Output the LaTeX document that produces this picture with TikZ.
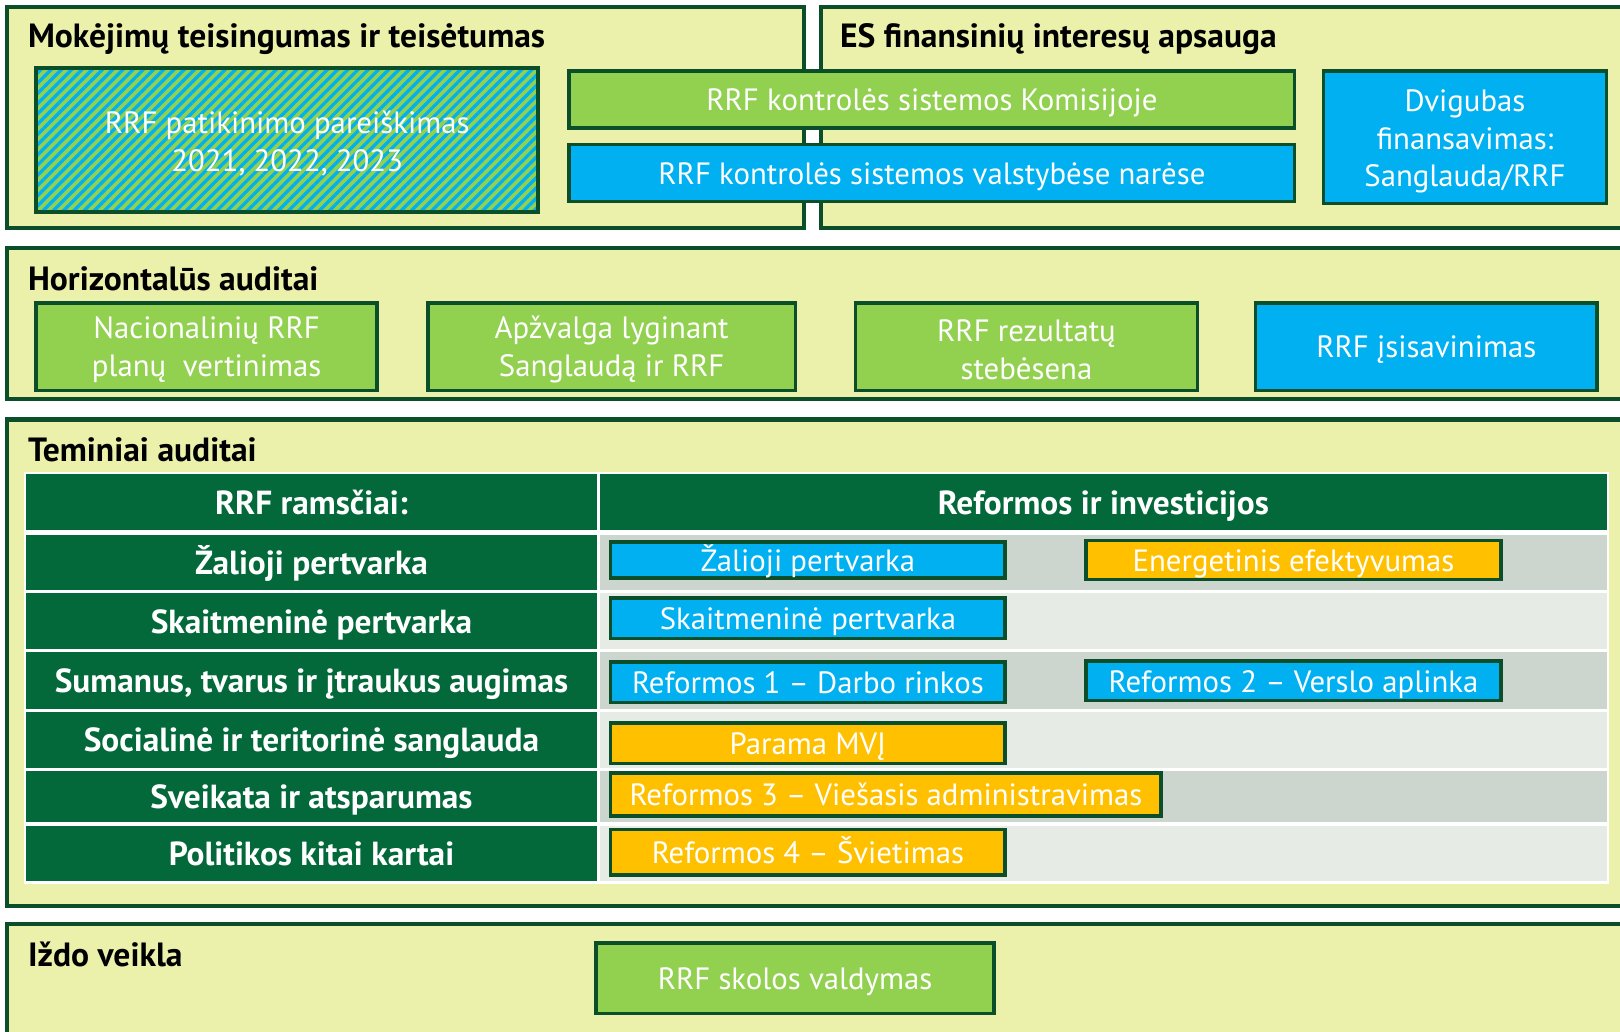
\documentclass[tikz,border=0pt]{standalone}
\usepackage{fontspec}
\setmainfont{PT Sans}
\usetikzlibrary{patterns.meta}

\definecolor{panelfill}{HTML}{EBF1AA}
\definecolor{edgegreen}{HTML}{0B4F2A}
\definecolor{tablegreen}{HTML}{03693A}
\definecolor{boxgreen}{HTML}{92D050}
\definecolor{boxblue}{HTML}{00B0F0}
\definecolor{boxorange}{HTML}{FFC000}
\definecolor{rowdark}{HTML}{CDD5CF}
\definecolor{rowlight}{HTML}{E6EBE6}

\newcommand\boxstrut{\rule[-0.22em]{0pt}{1.17em}}

\tikzset{
  panel/.style={draw=edgegreen, fill=panelfill, line width=4pt},
  paneltitle/.style={anchor=base west, inner sep=0pt, font=\fontsize{32.5}{36}\selectfont\bfseries},
  box/.style={draw=edgegreen, line width=3.5pt, text=white, inner sep=0pt, align=center,
    font=\fontsize{29.8}{36.5}\selectfont, execute at begin node=\boxstrut},
  boxtext/.style={text=white, inner sep=0pt, align=center, font=\fontsize{29.8}{36.5}\selectfont},
  greenbox/.style={box, fill=boxgreen},
  bluebox/.style={box, fill=boxblue},
  orangebox/.style={box, fill=boxorange},
  hatchbox/.style={box, preaction={fill=boxgreen},
    preaction={pattern={Lines[angle=45,distance=7pt,line width=3.2pt]}, pattern color=boxblue}},
  pillar/.style={fill=tablegreen, text=white, inner sep=0pt, font=\fontsize{32.3}{36}\selectfont\bfseries,
    execute at begin node=\boxstrut},
  size/.style 2 args={minimum width=#1, minimum height=#2}
}

\begin{document}
\begin{tikzpicture}[x=1pt,y=-1pt]
  \useasboundingbox (0,0) rectangle (1568,998);
  \clip (0,0) rectangle (1568,998);

  %%% panels
  \draw[panel] (7,7) rectangle (778,221);
  \draw[panel] (795,7) rectangle (1590,221);
  \draw[panel] (7,240) rectangle (1590,386);
  \draw[panel] (7,406) rectangle (1590,877);
  \draw[panel] (7,894) rectangle (1590,1020);

  \node[paneltitle] (t1) at (27,46) {Mokėjimų teisingumas ir teisėtumas};
  \node[paneltitle] (t2) at (813,46) {ES finansinių interesų apsauga};
  \node[paneltitle] (t3) at (27,281) {Horizontalūs auditai};
  \node[paneltitle] (t4) at (27,447) {Teminiai auditai};
  \node[paneltitle] (t5) at (27,935) {Iždo veikla};

  %%% top row
  \node[hatchbox, size={486}{139}] (patik) at (278,135.5) {};
  \node[boxtext] (patik-t) at ([yshift=-3.5pt]patik.center) {RRF patikinimo pareiškimas\\2021, 2022, 2023};
  \node[greenbox, size={702}{55}] (kom) at (902,96.5) {RRF kontrolės sistemos Komisijoje};
  \node[bluebox, size={702}{55}] (valst) at (902,167.5) {RRF kontrolės sistemos valstybėse narėse};
  \node[bluebox, size={274}{128}] (dvig) at (1418,133) {};
  \node[boxtext] (dvig-t) at ([yshift=-4pt]dvig.center) {Dvigubas\\finansavimas:\\Sanglauda/RRF};

  %%% horizontal audits
  \node[greenbox, size={330}{85}] (nac) at (200,335.5) {};
  \node[boxtext] (nac-t) at ([yshift=-3pt]nac.center) {Nacionalinių RRF\\planų\ \ vertinimas};
  \node[greenbox, size={356}{85}] (apzv) at (592,335.5) {};
  \node[boxtext] (apzv-t) at ([yshift=-3pt]apzv.center) {Apžvalga lyginant\\Sanglaudą ir RRF};
  \node[greenbox, size={331}{85}] (rez) at (993.5,335.5) {};
  \node[boxtext] (rez-t) at ([yshift=-3pt]rez.center) {RRF rezultatų\\stebėsena};
  \node[bluebox, size={331}{85}] (isis) at (1380.5,335.5) {RRF įsisavinimas};

  %%% table
  \fill[white] (23,457) rectangle (1557,856);
  \node[pillar, size={553}{54}] (hl) at (301.5,486) {RRF ramsčiai:};
  \node[pillar, size={974}{54}] (hr) at (1068,486) {Reformos ir investicijos};

  \fill[rowdark] (581,518) rectangle (1555,571);
  \fill[rowlight] (581,574) rectangle (1555,628);
  \fill[rowdark] (581,631) rectangle (1555,686);
  \fill[rowlight] (581,689) rectangle (1555,743);
  \fill[rowdark] (581,746) rectangle (1555,796);
  \fill[rowlight] (581,799) rectangle (1555,853);

  \node[pillar, size={553}{53}] (p1) at (301.5,544.5) {Žalioji pertvarka};
  \node[pillar, size={553}{54}] (p2) at (301.5,601) {Skaitmeninė pertvarka};
  \node[pillar, size={553}{55}] (p3) at (301.5,658.5) {Sumanus, tvarus ir įtraukus augimas};
  \node[pillar, size={553}{54}] (p4) at (301.5,716) {Socialinė ir teritorinė sanglauda};
  \node[pillar, size={553}{50}] (p5) at (301.5,771) {Sveikata ir atsparumas};
  \node[pillar, size={553}{54}] (p6) at (301.5,826) {Politikos kitai kartai};

  \node[bluebox, size={382}{34}] (zal) at (782,542) {Žalioji pertvarka};
  \node[orangebox, size={402}{38}] (energ) at (1252,542) {Energetinis efektyvumas};
  \node[bluebox, size={382}{39}] (skait) at (782,598.5) {Skaitmeninė pertvarka};
  \node[bluebox, size={382}{39}] (ref1) at (782,660.5) {Reformos 1 – Darbo rinkos};
  \node[bluebox, size={402}{38}] (ref2) at (1252,659) {Reformos 2 – Verslo aplinka};
  \node[orangebox, size={382}{39}] (mvi) at (782,719.5) {Parama MVĮ};
  \node[orangebox, size={533}{42}] (ref3) at (857.5,769) {Reformos 3 – Viešasis administravimas};
  \node[orangebox, size={382}{44}] (ref4) at (782,825) {Reformos 4 – Švietimas};

  %%% treasury
  \node[greenbox, size={385}{68}] (skol) at (769.5,947) {RRF skolos valdymas};
\end{tikzpicture}
\end{document}
